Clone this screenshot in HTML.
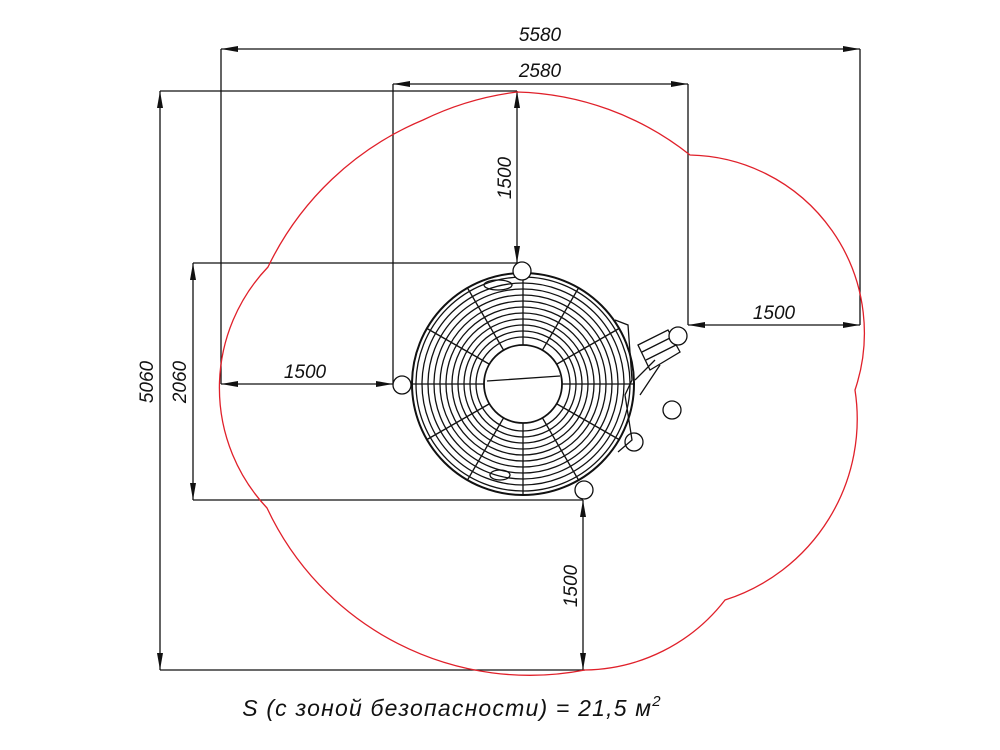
<!DOCTYPE html>
<html><head><meta charset="utf-8"><style>body{margin:0;background:#fff}svg{display:block}text{font-family:"Liberation Sans",sans-serif;font-style:italic;fill:#111}</style></head><body>
<svg width="1000" height="750" viewBox="0 0 1000 750" xmlns="http://www.w3.org/2000/svg">
<defs><marker id="a" markerWidth="18" markerHeight="8" refX="17" refY="4" orient="auto" markerUnits="userSpaceOnUse"><path d="M0,1 L17,4 L0,7 Z" fill="#111"/></marker></defs>
<g stroke="#111" stroke-width="1.3" fill="none">
<path d="M221,49V384 M860,49V325 M393,84V384 M688,84V325 M160,91H517 M160,670H585 M193,263H522 M193,500H583"/>
<line x1="540" y1="49" x2="221" y2="49" marker-end="url(#a)"/><line x1="540" y1="49" x2="860" y2="49" marker-end="url(#a)"/>
<line x1="540" y1="84" x2="393" y2="84" marker-end="url(#a)"/><line x1="540" y1="84" x2="688" y2="84" marker-end="url(#a)"/>
<line x1="160" y1="380" x2="160" y2="91" marker-end="url(#a)"/><line x1="160" y1="380" x2="160" y2="670" marker-end="url(#a)"/>
<line x1="193" y1="380" x2="193" y2="263" marker-end="url(#a)"/><line x1="193" y1="380" x2="193" y2="500" marker-end="url(#a)"/>
<line x1="517" y1="180" x2="517" y2="91" marker-end="url(#a)"/><line x1="517" y1="180" x2="517" y2="263" marker-end="url(#a)"/>
<line x1="300" y1="384" x2="221" y2="384" marker-end="url(#a)"/><line x1="300" y1="384" x2="393" y2="384" marker-end="url(#a)"/>
<line x1="770" y1="325" x2="688" y2="325" marker-end="url(#a)"/><line x1="770" y1="325" x2="860" y2="325" marker-end="url(#a)"/>
<line x1="583" y1="590" x2="583" y2="500" marker-end="url(#a)"/><line x1="583" y1="590" x2="583" y2="670" marker-end="url(#a)"/>
</g>
<path d="M517,92 A300,300 0 0 0 423,120 A300,300 0 0 0 268,267 A175,175 0 0 0 267,508 A290,290 0 0 0 585,670 A180,180 0 0 0 725,600 A190,190 0 0 0 855,390 A178,178 0 0 0 690,155 A290,290 0 0 0 517,92 Z" fill="none" stroke="#e0202a" stroke-width="1.3"/>
<g stroke="#111" fill="none" stroke-width="1.3">
<circle cx="523" cy="384" r="111" stroke-width="2"/>
<circle cx="523" cy="384" r="107"/><circle cx="523" cy="384" r="101"/><circle cx="523" cy="384" r="95"/><circle cx="523" cy="384" r="89"/><circle cx="523" cy="384" r="83"/><circle cx="523" cy="384" r="77"/><circle cx="523" cy="384" r="71"/><circle cx="523" cy="384" r="65"/><circle cx="523" cy="384" r="59"/><circle cx="523" cy="384" r="53"/><circle cx="523" cy="384" r="47"/>
<circle cx="523" cy="384" r="39" stroke-width="1.8" fill="#fff"/>
<path d="M523,273V345 M523,423V495 M412,384H484 M562,384H634 M467.5,288L503.5,350 M542.5,418L578.5,480 M467.5,480L503.5,418 M542.5,350L578.5,288 M427,328.5L489,364 M557,404L619,439.5 M427,439.5L489,404 M557,364L619,328.5 M487,381L560,376"/>
<circle cx="522" cy="271" r="9" fill="#fff"/><circle cx="402" cy="385" r="9" fill="#fff"/><circle cx="584" cy="490" r="9" fill="#fff"/>
<circle cx="634" cy="442" r="9" fill="#fff"/><circle cx="672" cy="410" r="9"/>
<path d="M615,320 L628,325 L632,380 L625,395 L632,440 L618,452"/>
<path d="M638,345 L668,330 L680,352 L650,370 Z" fill="#fff"/>
<path d="M642,352 L672,337 M646,360 L676,345"/>
<circle cx="678" cy="336" r="9" fill="#fff"/>
<path d="M635,380 L655,360 M640,395 L660,365"/>
<ellipse cx="498" cy="285" rx="14" ry="5"/><ellipse cx="500" cy="475" rx="10" ry="5"/>
</g>
<g font-size="19">
<text x="540" y="41" text-anchor="middle">5580</text>
<text x="540" y="77" text-anchor="middle">2580</text>
<text x="305" y="378" text-anchor="middle">1500</text>
<text x="774" y="319" text-anchor="middle">1500</text>
<text transform="translate(153,382) rotate(-90)" text-anchor="middle">5060</text>
<text transform="translate(186,382) rotate(-90)" text-anchor="middle">2060</text>
<text transform="translate(511,178) rotate(-90)" text-anchor="middle">1500</text>
<text transform="translate(577,586) rotate(-90)" text-anchor="middle">1500</text>
</g>
<text x="452" y="716" font-size="23" letter-spacing="1.2" text-anchor="middle">S (с зоной безопасности) = 21,5 м<tspan font-size="15" dy="-10">2</tspan></text>
</svg>
</body></html>
